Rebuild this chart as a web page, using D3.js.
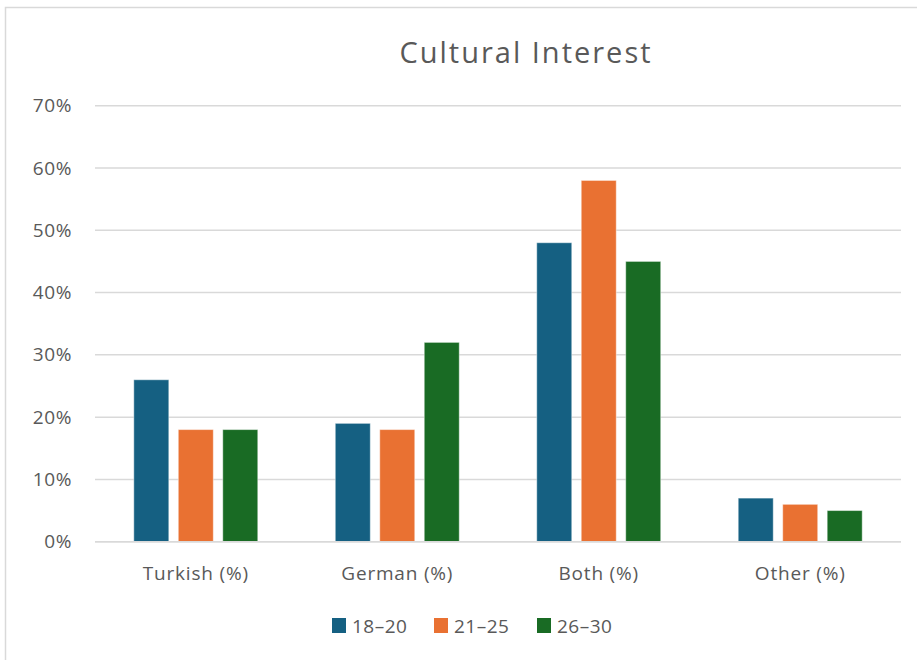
<!DOCTYPE html>
<html>
<head>
<meta charset="utf-8">
<script src="https://cdn.jsdelivr.net/npm/d3@7"></script>
<style>
  html, body { margin: 0; padding: 0; background: #fff; }
  svg { display: block; }
  text { font-family: "Open Sans", sans-serif; fill: #595959; }
</style>
</head>
<body>
<svg id="chart" width="917" height="660"></svg>
<script>
const title = "Cultural Interest";
const categories = ["Turkish (%)", "German (%)", "Both (%)", "Other (%)"];
const seriesNames = ["18–20", "21–25", "26–30"];
const seriesColors = ["#156082", "#E97132", "#196B24"];
// series values (percent) per category
const s1820 = [26, 19, 48, 7];
const s2125 = [18, 18, 58, 6];
const s2630 = [18, 32, 45, 5];
const yTicks = [0, 10, 20, 30, 40, 50, 60, 70];

const series = [s1820, s2125, s2630];
const svg = d3.select("#chart");

// chart frame
svg.append("rect")
  .attr("x", 5.5).attr("y", 7.5)
  .attr("width", 940).attr("height", 700)
  .attr("fill", "#fff").attr("stroke", "#d9d9d9").attr("stroke-width", 1.5);

const plot = { left: 95, right: 901, top: 105.7, bottom: 541.7 };

const x0 = d3.scaleBand().domain(categories)
  .range([plot.left, plot.right]).paddingInner(0.3375).paddingOuter(0.169);
const x1 = d3.scaleBand().domain(d3.range(seriesNames.length))
  .range([0, x0.bandwidth()]).paddingInner(0.213).paddingOuter(0.1067);
const y = d3.scaleLinear().domain([0, 70]).range([plot.bottom, plot.top]);

// gridlines
svg.append("g").selectAll("line").data(yTicks).join("line")
  .attr("x1", plot.left).attr("x2", plot.right)
  .attr("y1", d => y(d)).attr("y2", d => y(d))
  .attr("stroke", "#d9d9d9").attr("stroke-width", 1.5);

// y axis labels
const yAxis = d3.axisLeft(y).tickValues(yTicks).tickFormat(d => d + "%").tickSize(0).tickPadding(0);
const ya = svg.append("g").attr("transform", `translate(72,0)`).call(yAxis);
ya.select(".domain").remove();
ya.selectAll("text").attr("font-size", 19).attr("fill", "#595959")
  .style("font-family", '"Open Sans", sans-serif').attr("letter-spacing", 0.6);

// bars
const groups = svg.append("g").selectAll("g").data(categories).join("g")
  .attr("transform", c => `translate(${x0(c)},0)`);
groups.selectAll("rect")
  .data((c, ci) => series.map((s, si) => ({ si, v: s[ci] })))
  .join("rect")
  .attr("x", d => x1(d.si))
  .attr("width", x1.bandwidth())
  .attr("y", d => y(d.v))
  .attr("height", d => y(0) - y(d.v))
  .attr("fill", d => seriesColors[d.si])
  .attr("stroke", "rgba(255,255,255,0.45)").attr("stroke-width", 1);

// baseline on top
svg.append("line")
  .attr("x1", plot.left).attr("x2", plot.right)
  .attr("y1", y(0)).attr("y2", y(0))
  .attr("stroke", "#d9d9d9").attr("stroke-width", 1.5);

// x axis labels
const xAxis = d3.axisBottom(x0).tickSize(0).tickPadding(0);
const xa = svg.append("g").attr("transform", `translate(0,566)`).call(xAxis);
xa.select(".domain").remove();
xa.selectAll("text").attr("font-size", 19).attr("fill", "#595959")
  .style("font-family", '"Open Sans", sans-serif').attr("letter-spacing", 0.8);

// title
svg.append("text")
  .attr("x", 526).attr("y", 63)
  .attr("text-anchor", "middle")
  .attr("font-size", 29)
  .attr("letter-spacing", 2)
  .text(title);

// legend
const legendX = [332, 434, 537];
const lg = svg.append("g").selectAll("g").data(seriesNames).join("g")
  .attr("transform", (d, i) => `translate(${legendX[i]},618)`);
lg.append("rect").attr("width", 14).attr("height", 15)
  .attr("fill", (d, i) => seriesColors[i]);
lg.append("text").attr("x", 20).attr("y", 15)
  .attr("font-size", 19).attr("letter-spacing", 0.5)
  .text(d => d);
</script>
</body>
</html>
